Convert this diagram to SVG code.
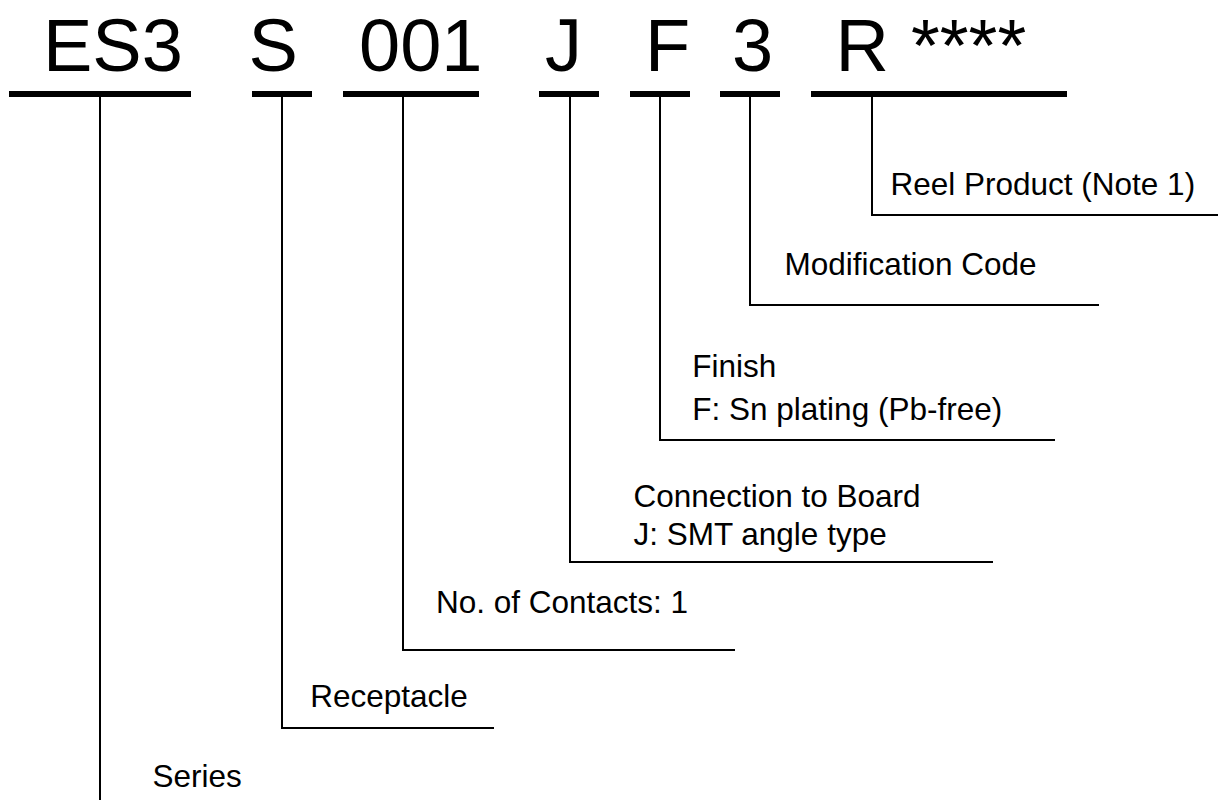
<svg xmlns="http://www.w3.org/2000/svg" width="1218" height="800" viewBox="0 0 1218 800">
<style>
.code{font-family:"Liberation Sans",Arial,sans-serif;font-size:74px;fill:#000}
.lbl{font-family:"Liberation Sans",Arial,sans-serif;font-size:31.5px;fill:#000}
.bar{stroke:#000;stroke-width:6;fill:none}
.conn{stroke:#000;stroke-width:2;fill:none}
</style>
<rect width="1218" height="800" fill="#fff"/>
<g id="code-series"><text class="code" x="43" y="71">ES3</text><line class="bar" x1="9" y1="94" x2="191" y2="94"/></g>
<g id="code-type"><text class="code" x="248.5" y="71">S</text><line class="bar" x1="252" y1="94" x2="312" y2="94"/></g>
<g id="code-contacts"><text class="code" x="359" y="71">001</text><line class="bar" x1="343" y1="94" x2="479" y2="94"/></g>
<g id="code-connection"><text class="code" x="545" y="71">J</text><line class="bar" x1="539" y1="94" x2="599" y2="94"/></g>
<g id="code-finish"><text class="code" x="645" y="71">F</text><line class="bar" x1="630" y1="94" x2="690" y2="94"/></g>
<g id="code-mod"><text class="code" x="732" y="71">3</text><line class="bar" x1="720" y1="94" x2="780" y2="94"/></g>
<g id="code-reel"><text class="code" x="835.5" y="71">R</text><text class="code" x="911" y="71">****</text><line class="bar" x1="811" y1="94" x2="1067" y2="94"/></g>
<g id="connectors">
<path class="conn" d="M100,97 V800"/>
<path class="conn" d="M282,97 V728 H494"/>
<path class="conn" d="M403,97 V650 H735"/>
<path class="conn" d="M570,97 V562 H993"/>
<path class="conn" d="M660,97 V440 H1055"/>
<path class="conn" d="M750,97 V305 H1099"/>
<path class="conn" d="M872,97 V215 H1218"/>
</g>
<g id="label-series"><text class="lbl" x="152.5" y="787">Series</text></g>
<g id="label-receptacle"><text class="lbl" x="310.2" y="707">Receptacle</text></g>
<g id="label-contacts"><text class="lbl" x="436" y="613">No. of Contacts: 1</text></g>
<g id="label-connection"><text class="lbl" x="633.4" y="507">Connection to Board</text><text class="lbl" x="633.4" y="545">J: SMT angle type</text></g>
<g id="label-finish"><text class="lbl" x="692.3" y="377">Finish</text><text class="lbl" x="692.3" y="420">F: Sn plating (Pb-free)</text></g>
<g id="label-mod"><text class="lbl" x="784.4" y="275">Modification Code</text></g>
<g id="label-reel"><text class="lbl" x="890.5" y="195">Reel Product (Note 1)</text></g>
</svg>
